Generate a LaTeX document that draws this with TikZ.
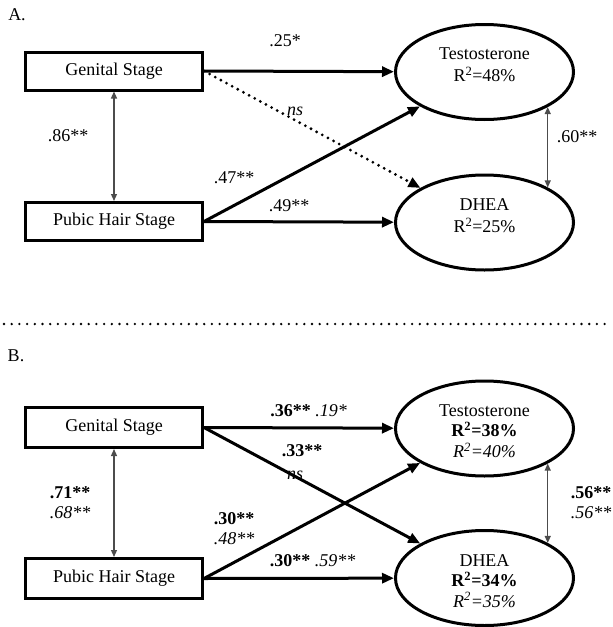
\documentclass[tikz,border=0pt]{standalone}
\usepackage{fontspec}
\setmainfont{Liberation Serif}
\usetikzlibrary{arrows.meta,shapes.geometric}

\begin{document}
\begin{tikzpicture}[x=1pt,y=-1pt,
  every node/.style={font=\fontsize{18}{21}\selectfont, inner sep=0pt},
  stagebox/.style={draw, line width=3pt, minimum width=177pt, minimum height=38pt},
  hormone/.style={draw, ellipse, line width=3pt, minimum width=178pt, minimum height=95pt},
  hormtext/.style={anchor=north, align=center},
  effect/.style={line width=3pt, -{Triangle[length=12pt,width=10pt]}},
  nseffect/.style={line width=3.1pt, line cap=round, dash pattern=on 0pt off 6.4pt,
                   -{Triangle[length=12pt,width=10pt]}},
  corr/.style={line width=1.2pt, draw=black!70,
               {Triangle[length=7pt,width=6pt]}-{Triangle[length=7pt,width=6pt]}},
  coef/.style={align=center, font=\fontsize{18}{20}\selectfont},
  divider/.style={line width=2.6pt, line cap=round, dash pattern=on 0pt off 7.7pt}
]
\useasboundingbox (0,0) rectangle (613,627);

% ---------------- Panel A ----------------
\node (labA) at (17,15) {A.};
\node[stagebox] (GA) at (114,71) {Genital Stage};
\node[stagebox] (PA) at (114,221.5) {Pubic Hair Stage};
\node[hormone] (TA) at (484.5,72) {};
\node[hormone] (DA) at (484.5,222.5) {};
\node[hormtext, font=\fontsize{18}{22}\selectfont] (TAt) at ([yshift=24pt]TA.center)
  {Testosterone\\R\textsuperscript{2}=48\%};
\node[hormtext, font=\fontsize{18}{22}\selectfont] (DAt) at ([yshift=24pt]DA.center)
  {DHEA\\R\textsuperscript{2}=25\%};

\node[coef] (cA1) at (285,41) {.25*};
\node[coef] (cA2) at (295,111) {\textit{ns}};
\node[coef] (cA3) at (234,178) {.47**};
\node[coef] (cA4) at (289,206) {.49**};
\node[coef] (cA5) at (68,136) {.86**};
\node[coef] (cA6) at (577,137) {.60**};

\draw[effect] (GA.east) -- (TA);
\draw[nseffect] (GA.east) -- (DA);
\draw[effect] (PA.east) -- (TA);
\draw[effect] (PA.east) -- (DA);
\draw[corr] (GA.south) -- (PA.north);
\draw[corr] (TA.-29.5) -- (DA.29.5);

% ---------------- separator ----------------
\draw[divider] (4,324) -- (610,324);

% ---------------- Panel B ----------------
\node (labB) at (16,356) {B.};
\node[stagebox, minimum height=40pt] (GB) at (114,427.5) {Genital Stage};
\node[stagebox, minimum height=40pt] (PB) at (114,578.5) {Pubic Hair Stage};
\node[hormone] (TB) at (484.5,428.5) {};
\node[hormone] (DB) at (484.5,578) {};
\node[hormtext, font=\fontsize{18}{20.5}\selectfont] (TBt) at ([yshift=24pt]TB.center)
  {Testosterone\\\textbf{R\textsuperscript{2}=38\%}\\\textit{R\textsuperscript{2}=40\%}};
\node[hormtext, font=\fontsize{18}{20.5}\selectfont] (DBt) at ([yshift=24pt]DB.center)
  {DHEA\\\textbf{R\textsuperscript{2}=34\%}\\\textit{R\textsuperscript{2}=35\%}};

\node[coef] (cB1) at (308.5,411) {\textbf{.36**} \textit{.19*}};
\node[coef] (cB2) at (302,451) {\textbf{.33**}};
\node[coef] (cB3) at (295,475) {\textit{ns}};
\node[coef] (cB4) at (234,529) {\textbf{.30**}\\\textit{.48**}};
\node[coef] (cB5) at (312.5,561) {\textbf{.30**} \textit{.59**}};
\node[coef] (cB6) at (70,502.5) {\textbf{.71**}\\\textit{.68**}};
\node[coef] (cB7) at (591,502.5) {\textbf{.56**}\\\textit{.56**}};

\draw[effect] (GB.east) -- (TB);
\draw[effect] (GB.east) -- (DB);
\draw[effect] (PB.east) -- (TB);
\draw[effect] (PB.east) -- (DB);
\draw[corr] (GB.south) -- (PB.north);
\draw[corr] (TB.-29.5) -- (DB.29.5);
\end{tikzpicture}
\end{document}
